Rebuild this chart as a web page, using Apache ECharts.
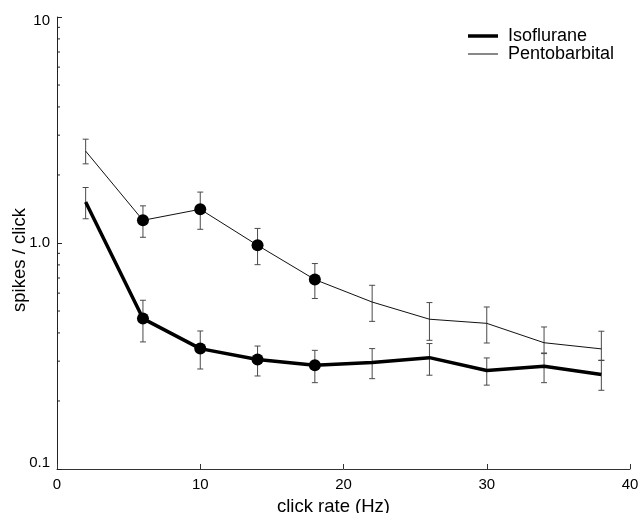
<!DOCTYPE html>
<html>
<head>
<meta charset="utf-8">
<style>
  html, body { margin: 0; padding: 0; background: #fff; }
  #chart { width: 638px; height: 513px; }
</style>
<script src="https://cdn.jsdelivr.net/npm/echarts@6/dist/echarts.min.js"></script>
</head>
<body>
<div id="chart"></div>
<script>
// Click rate (Hz) for each measurement
const rates = [2, 6, 10, 14, 18, 22, 26, 30, 34, 38];
// Rates that carry a filled marker
const markedRates = [6, 10, 14, 18];

// Isoflurane: mean spikes per click and error-bar limits
const isoMean = [1.52, 0.463, 0.341, 0.305, 0.288, 0.296, 0.311, 0.273, 0.285, 0.262];
const isoHigh = [1.76, 0.558, 0.408, 0.350, 0.335, 0.341, 0.359, 0.310, 0.324, 0.302];
const isoLow  = [1.28, 0.365, 0.277, 0.258, 0.241, 0.251, 0.260, 0.235, 0.241, 0.223];

// Pentobarbital: mean spikes per click and error-bar limits
const pentoMean = [2.55, 1.26, 1.41, 0.977, 0.689, 0.548, 0.460, 0.441, 0.362, 0.340];
const pentoHigh = [2.88, 1.46, 1.68, 1.16, 0.811, 0.650, 0.545, 0.521, 0.425, 0.407];
const pentoLow  = [2.24, 1.06, 1.15, 0.802, 0.568, 0.450, 0.371, 0.361, 0.326, 0.303];

// Axis ticks
const xTicks = [0, 10, 20, 30, 40];
const yMajorTicks = [0.1, 1, 10];
const yMinorTicks = [0.2, 0.3, 0.4, 0.5, 0.6, 0.7, 0.8, 0.9, 2, 3, 4, 5, 6, 7, 8, 9];

const FONT = '"Liberation Sans", Arial, Helvetica, sans-serif';

function pairs(values) {
  return rates.map((r, i) => [r, values[i]]);
}
function markerPairs(values) {
  return rates.map((r, i) => [r, values[i]]).filter(p => markedRates.indexOf(p[0]) >= 0);
}
function errorData(low, high) {
  return rates.map((r, i) => [r, low[i], high[i]]);
}

// Vertical error bar with short caps
function renderErrorBar(params, api) {
  const x = api.value(0);
  const lo = api.coord([x, api.value(1)]);
  const hi = api.coord([x, api.value(2)]);
  const cap = 3;
  const style = { stroke: '#4a4a4a', lineWidth: 1 };
  return {
    type: 'group',
    children: [
      { type: 'line', shape: { x1: lo[0], y1: lo[1], x2: hi[0], y2: hi[1] }, style },
      { type: 'line', shape: { x1: hi[0] - cap, y1: hi[1], x2: hi[0] + cap, y2: hi[1] }, style },
      { type: 'line', shape: { x1: lo[0] - cap, y1: lo[1], x2: lo[0] + cap, y2: lo[1] }, style }
    ]
  };
}

// Minor log ticks drawn inward from the y axis
function renderMinorTick(params, api) {
  const p = api.coord([xTicks[0], api.value(0)]);
  return {
    type: 'line',
    shape: { x1: p[0], y1: p[1], x2: p[0] + 3, y2: p[1] },
    style: { stroke: '#222', lineWidth: 1 }
  };
}

// Y labels: the end labels are nudged inside the axis range
function yLabel(v) {
  if (v === yMajorTicks[0]) return '{lo|' + v + '}';
  if (v === yMajorTicks[yMajorTicks.length - 1]) return '{hi|' + v + '}';
  return v === 1 ? '1.0' : String(v);
}

const legendText = { fontFamily: FONT, fontSize: 18, color: '#000', padding: [0, 0, 0, 5] };
const labelFont = { fontFamily: FONT, fontSize: 15, color: '#000' };

const chart = echarts.init(document.getElementById('chart'), null, { renderer: 'canvas' });

chart.setOption({
  backgroundColor: '#fff',
  animation: false,
  textStyle: { fontFamily: FONT },
  grid: { left: 57, right: 8, top: 17, bottom: 44, containLabel: false, outerBoundsMode: 'none' },
  legend: [
    {
      left: 468, top: 27, padding: 0,
      icon: 'rect', itemWidth: 30, itemHeight: 3.5,
      selectedMode: false,
      data: ['Isoflurane'],
      textStyle: legendText
    },
    {
      left: 468, top: 45, padding: 0,
      icon: 'rect', itemWidth: 30, itemHeight: 1,
      selectedMode: false,
      data: ['Pentobarbital'],
      textStyle: legendText
    }
  ],
  xAxis: {
    type: 'value',
    min: xTicks[0],
    max: xTicks[xTicks.length - 1],
    interval: 10,
    name: 'click rate (Hz)',
    nameLocation: 'middle',
    nameGap: 28,
    nameMoveOverlap: false,
    nameTextStyle: { fontFamily: FONT, fontSize: 18.5, color: '#000', padding: [0, 20, 0, 0] },
    axisLine: { lineStyle: { color: '#333', width: 1 } },
    axisTick: { inside: true, length: 5, lineStyle: { color: '#333' } },
    axisLabel: Object.assign({ margin: 8 }, labelFont),
    splitLine: { show: false }
  },
  yAxis: {
    type: 'log',
    logBase: 10,
    min: yMajorTicks[0],
    max: yMajorTicks[yMajorTicks.length - 1],
    name: 'spikes / click',
    nameLocation: 'middle',
    nameGap: 28,
    nameMoveOverlap: false,
    nameTextStyle: { fontFamily: FONT, fontSize: 18.5, color: '#000', padding: [0, 34, 0, 0] },
    axisLine: { show: true, lineStyle: { color: '#222', width: 1 } },
    axisTick: { show: true, inside: true, length: 5, lineStyle: { color: '#222' } },
    axisLabel: Object.assign({
      margin: 7,
      formatter: yLabel,
      rich: {
        lo: Object.assign({ padding: [0, 0, 12, 0] }, labelFont),
        hi: Object.assign({ padding: [8, 0, 0, 0] }, labelFont)
      }
    }, labelFont),
    splitLine: { show: false }
  },
  series: [
    {
      type: 'custom',
      name: 'minorTicks',
      renderItem: renderMinorTick,
      data: yMinorTicks.map(v => [v]),
      encode: { y: 0 },
      silent: true,
      z: 1
    },
    {
      type: 'custom',
      name: 'isoErr',
      renderItem: renderErrorBar,
      data: errorData(isoLow, isoHigh),
      encode: { x: 0, y: [1, 2] },
      silent: true,
      z: 2
    },
    {
      type: 'custom',
      name: 'pentoErr',
      renderItem: renderErrorBar,
      data: errorData(pentoLow, pentoHigh),
      encode: { x: 0, y: [1, 2] },
      silent: true,
      z: 2
    },
    {
      type: 'line',
      name: 'Isoflurane',
      data: pairs(isoMean),
      symbol: 'none',
      lineStyle: { color: '#000', width: 3.5 },
      itemStyle: { color: '#000' },
      z: 3
    },
    {
      type: 'line',
      name: 'Pentobarbital',
      data: pairs(pentoMean),
      symbol: 'none',
      lineStyle: { color: '#111', width: 1 },
      itemStyle: { color: '#111' },
      z: 3
    },
    {
      type: 'scatter',
      name: 'isoMarkers',
      data: markerPairs(isoMean),
      symbol: 'circle',
      symbolSize: 12,
      itemStyle: { color: '#000', opacity: 1 },
      z: 4
    },
    {
      type: 'scatter',
      name: 'pentoMarkers',
      data: markerPairs(pentoMean),
      symbol: 'circle',
      symbolSize: 12,
      itemStyle: { color: '#000', opacity: 1 },
      z: 4
    }
  ]
});
</script>
</body>
</html>
